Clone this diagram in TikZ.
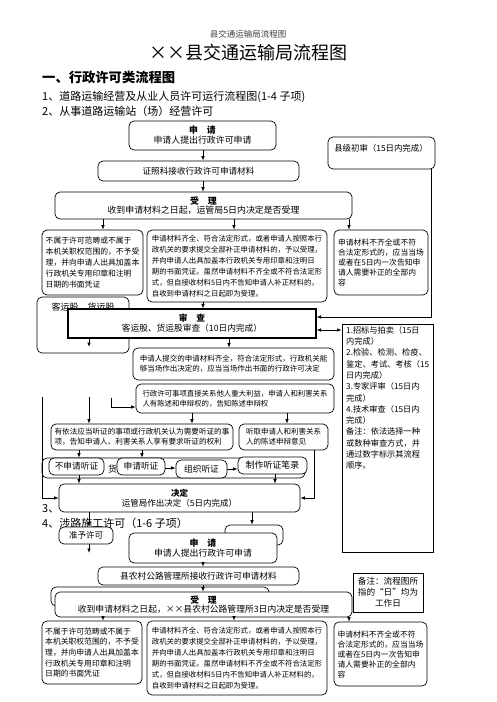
\documentclass[tikz,border=0pt]{standalone}
\usepackage{fontspec}
\setmainfont{Noto Sans CJK SC}
\usetikzlibrary{arrows.meta}
\newcommand\fz[2]{\fontsize{#1}{#2}\selectfont}
\newcommand\mkbox[7]{%
  \pgfmathsetmacro\mybw{#4-#2}%
  \pgfmathsetmacro\mybh{#5-#3}%
  \pgfmathsetmacro\mybx{(#2+#4)/2}%
  \pgfmathsetmacro\myby{(#3+#5)/2}%
  \node[#6,minimum width=\mybw pt,minimum height=\mybh pt] (#1) at (\mybx,\myby) {#7};}
\newcommand\va[3]{\draw[arr] (#2.south -| #1,0) -- (#3.north -| #1,0);}
\begin{document}
\begin{tikzpicture}[x=1pt,y=-1pt,
  box/.style={draw=black, line width=0.7pt, rounded corners=5pt, fill=white, inner sep=0pt, align=left},
  sbox/.style={draw=black, line width=0.8pt, fill=white, inner sep=0pt, align=left},
  txt/.style={inner sep=0pt, align=left},
  arr/.style={-{Latex[length=4.5pt,width=3.5pt]}, line width=0.7pt},
  darr/.style={{Latex[length=4.5pt,width=3.5pt]}-{Latex[length=4.5pt,width=3.5pt]}, line width=0.7pt}]
\fill[white] (0,0) rectangle (496,702);
\useasboundingbox (0,0) rectangle (496,702);

% headings
\node[txt, font=\fz{8.5}{10}, text=black!75] (hdr) at (248,34) {县交通运输局流程图};
\node[txt, font=\fz{18}{20}] (ttl) at (248,53) {××县交通运输局流程图};
\node[txt, anchor=west, font=\bfseries\fz{13.3}{15}] (h1) at (42,77) {一、行政许可类流程图};
\node[txt, anchor=west, font=\fz{11}{12}] (h2) at (42,97) {1、道路运输经营及从业人员许可运行流程图(1-4 子项)};
\node[txt, anchor=west, font=\fz{11}{12}] (h3) at (42,111) {2、从事道路运输站（场）经营许可};

% background boxes
\mkbox{kyg}{37}{297}{129}{353}{box}{}
\node[txt, font=\fz{9}{10}] (kygt) at (83,307) {客运股、货运股};
\mkbox{hbg}{42}{458}{305}{478}{box}{}
\node[txt, anchor=west, font=\fz{9}{10}] (hbgt) at (108,469) {货};
\node[txt, anchor=west, font=\fz{11}{12}] (h4) at (42,509) {3、};
\node[txt, anchor=west, font=\fz{11}{12}] (h5) at (42,523) {4、涉路施工许可（1-6 子项）};
\mkbox{hid}{225}{525}{283}{545}{box}{}
\mkbox{bh2}{51}{587}{269}{606}{box}{}

% section 1
\mkbox{sq1}{129}{121}{276}{150}{box,align=center,font=\fz{8.9}{10}}{{\bfseries 申\quad 请}\\申请人提出行政许可申请}
\mkbox{zz}{98}{161}{299}{181}{box,font=\fz{8.6}{10}}{证照科接收行政许可申请材料}
\mkbox{xj}{328}{137}{435}{169}{box}{}
\node[txt, font=\fz{8.4}{10}] (xjt) at (381,148) {县级初审（15日内完成）};
\mkbox{sl1}{55}{192}{352}{219}{box,align=center,font=\fz{8.9}{9.2}}{{\bfseries 受\quad 理}\\收到申请材料之日起，运管局5日内决定是否受理}
\mkbox{bs1}{42}{230}{143}{295}{box,font=\fz{7.8}{10.8}}{不属于许可范畴或不属于\\本机关职权范围的，不予受\\理，并向申请人出具加盖本\\行政机关专用印章和注明\\日期的书面凭证}
\mkbox{mid1}{147}{230}{327}{302}{box,font=\fz{7.4}{10.9}}{申请材料齐全、符合法定形式，或者申请人按照本行\\政机关的要求提交全部补正申请材料的，予以受理，\\并向申请人出具加盖本行政机关专用印章和注明日\\期的书面凭证。虽然申请材料不齐全或不符合法定形\\式，但自接收材料5日内不告知申请人补正材料的，\\自收到申请材料之日起即为受理。}
\mkbox{rt1}{334}{230}{428}{295}{box,font=\fz{7.8}{10}}{申请材料不齐全或不符\\合法定形式的，应当当场\\或者在5日内一次告知申\\请人需要补正的全部内\\容}
\mkbox{sc}{68}{309}{316}{338}{sbox,line width=1.2pt,align=center,font=\fz{8.7}{10}}{{\bfseries 审\quad 查}\\客运股、货运股审查（10日内完成）}
\mkbox{zb}{342}{324}{433}{552}{sbox}{}
\node[txt, anchor=north west, font=\fz{8.2}{11.3}] (zbt) at (346,326) {1.招标与拍卖（15日\\内完成）\\2.检验、检测、检疫、\\鉴定、考试、考核（15\\日内完成）\\3.专家评审（15日内\\完成）\\4.技术审查（15日内\\完成）\\备注：依法选择一种\\或数种审查方式，并\\通过数字标示其流程\\顺序。};
\mkbox{tj}{133}{348}{334}{380}{box,font=\fz{7.5}{10}}{申请人提交的申请材料齐全，符合法定形式，行政机关能\\够当场作出决定的，应当当场作出书面的行政许可决定}
\mkbox{xz}{136}{384}{334}{413}{box,font=\fz{7.4}{10}}{行政许可事项直接关系他人重大利益，申请人和利害关系\\人有陈述和申辩权的，告知陈述申辩权}
\mkbox{yf}{51}{424}{233}{450}{box,font=\fz{7.6}{10}}{有依法应当听证的事项或行政机关认为需要听证的事\\项，告知申请人、利害关系人享有要求听证的权利}
\mkbox{tq}{239}{424}{328}{450}{box,font=\fz{7.5}{10}}{听取申请人和利害关系\\人的陈述申辩意见}
\mkbox{bsq}{49}{458}{104}{475}{box,font=\fz{8.7}{10}}{不申请听证}
\mkbox{sqt}{117}{458}{165}{475}{box,font=\fz{8.7}{10}}{申请听证}
\mkbox{zzt}{176}{460}{227}{478}{box,font=\fz{8.7}{10}}{组织听证}
\mkbox{zzb}{238}{457}{307}{474}{box,font=\fz{8.9}{10}}{制作听证笔录}
\mkbox{jd}{59}{484}{300}{512}{box,align=center,font=\fz{8.5}{9.5}}{{\bfseries 决定}\\运管局作出决定（5日内完成）}
\mkbox{zy}{59}{527}{113}{544}{box,font=\fz{8.5}{10}}{准予许可}

% section 2
\mkbox{sq2}{129}{533}{277}{563}{box,align=center,font=\fz{8.9}{10.5}}{{\bfseries 申\quad 请}\\申请人提出行政许可申请}
\mkbox{xn}{98}{567}{299}{585}{box,font=\fz{8.7}{10}}{县农村公路管理所接收行政许可申请材料}
\mkbox{bz}{353}{573}{423}{612}{sbox,align=center,font=\fz{8.6}{11}}{备注：流程图所\\指的“日”均为\\工作日}
\mkbox{sl2}{55}{592}{352}{617}{box,align=center,font=\fz{8.8}{9.5}}{{\bfseries 受\quad 理}\\收到申请材料之日起，××县农村公路管理所3日内决定是否受理}
\mkbox{bs2}{42}{621}{142}{684}{box,font=\fz{7.8}{10.6}}{不属于许可范畴或不属于\\本机关职权范围的，不予受\\理，并向申请人出具加盖本\\行政机关专用印章和注明\\日期的书面凭证}
\mkbox{mid2}{147}{621}{327}{695}{box,font=\fz{7.4}{10.9}}{申请材料齐全、符合法定形式，或者申请人按照本行\\政机关的要求提交全部补正申请材料的，予以受理，\\并向申请人出具加盖本行政机关专用印章和注明日\\期的书面凭证。虽然申请材料不齐全或不符合法定形\\式，但自接收材料5日内不告知申请人补正材料的，\\自收到申请材料之日起即为受理。}
\mkbox{rt2}{334}{622}{427}{686}{box,font=\fz{7.8}{10}}{申请材料不齐全或不符\\合法定形式的，应当当场\\或者在5日内一次告知申\\请人需要补正的全部内\\容}

% connectors section 1
\va{203}{sq1}{zz}
\va{203}{zz}{sl1}
\va{103}{sl1}{bs1}
\va{234}{sl1}{mid1}
\va{349}{sl1}{rt1}
\draw[arr] (xj.south -| 431,0) |- ([yshift=6.5pt]sc.east);
\draw[darr] ([yshift=-6.5pt]sc.east) -- ([yshift=-6.5pt]sc.east -| zb.west);
\va{203}{mid1}{sc}
\va{229}{sc}{tj}
\coordinate (c89a) at (89,347);
\draw[arr] (sc.south -| 89,0) -- (c89a);
\coordinate (c111) at (111,398);
\draw[arr] (c111) |- (xz.west |- 0,407);
\coordinate (c42) at (42,397);
\draw[arr] (c42) |- (jd.west);
\coordinate (c89b) at (89,397);
\draw[arr] (c89b) -- (yf.north -| 89,0);
\va{192}{xz}{yf}
\va{287}{xz}{tq}
\va{79}{yf}{bsq}
\va{142}{yf}{sqt}
\draw[arr] (sqt.east |- 0,468) -- (zzt.west |- 0,468);
\draw[arr] (zzt.east |- 0,469) -- (zzb.west |- 0,469);
\va{79}{bsq}{jd}
\va{275}{zzb}{jd}
\draw[arr] (tq.south -| 314,0) |- (jd.east);
\va{89}{jd}{zy}
\va{252}{jd}{hid}
\coordinate (c89c) at (89,553);
\draw[arr] (zy.south -| 89,0) -- (c89c);

% connectors section 2
\va{203}{sq2}{xn}
\va{203}{xn}{sl2}
\va{103}{sl2}{bs2}
\va{234}{sl2}{mid2}
\va{349}{sl2}{rt2}
\end{tikzpicture}
\end{document}
